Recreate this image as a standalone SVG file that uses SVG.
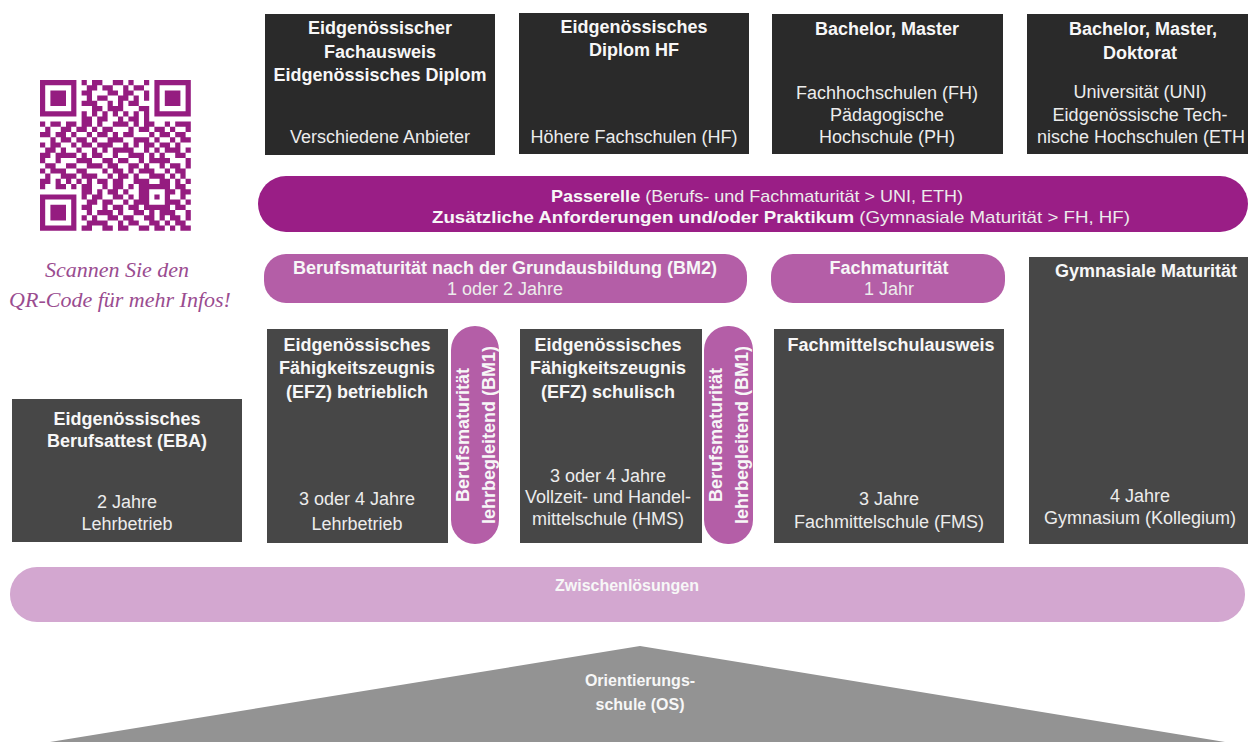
<svg xmlns="http://www.w3.org/2000/svg" width="1248" height="742" viewBox="0 0 1248 742">
<style>
.top{fill:#2a2a2a}
.box{fill:#474747}
.pill{fill:#b45ea7}
.t{font-family:"Liberation Sans",Arial,sans-serif;font-size:18px;fill:#ececec;text-anchor:middle}
.b{font-weight:bold;fill:#f7f7f7}
.cap{font-family:"Liberation Serif","Times New Roman",serif;font-style:italic;font-size:22px;fill:#9a4c90;text-anchor:middle}
</style>
<rect width="1248" height="742" fill="#ffffff"/>

<g id="qr">
<path transform="translate(40,80) scale(5.2)" fill="none" stroke="#951c80" stroke-width="1" d="M0 .5h7M8 .5h1M10 .5h2M14 .5h2M17 .5h1M20 .5h1M22 .5h7
M0 1.5h1M6 1.5h1M9 1.5h2M12 1.5h2M16 1.5h1M18 1.5h2M22 1.5h1M28 1.5h1
M0 2.5h1M2 2.5h3M6 2.5h1M8 2.5h2M13 2.5h2M16 2.5h2M20 2.5h1M22 2.5h1M24 2.5h3M28 2.5h1
M0 3.5h1M2 3.5h3M6 3.5h1M9 3.5h1M11 3.5h2M15 3.5h2M18 3.5h1M20 3.5h1M22 3.5h1M24 3.5h3M28 3.5h1
M0 4.5h1M2 4.5h3M6 4.5h1M8 4.5h3M13 4.5h1M15 4.5h1M17 4.5h2M22 4.5h1M24 4.5h3M28 4.5h1
M0 5.5h1M6 5.5h1M10 5.5h2M13 5.5h3M19 5.5h2M22 5.5h1M28 5.5h1
M0 6.5h7M8 6.5h1M10 6.5h1M12 6.5h1M14 6.5h1M16 6.5h1M18 6.5h1M20 6.5h1M22 6.5h7
M8 7.5h2M11 7.5h2M15 7.5h1M17 7.5h2M20 7.5h1
M0 8.5h1M2 8.5h2M5 8.5h2M8 8.5h2M11 8.5h1M14 8.5h3M18 8.5h1M20 8.5h2M24 8.5h1M26 8.5h3
M1 9.5h1M4 9.5h2M7 9.5h2M10 9.5h1M12 9.5h2M17 9.5h1M19 9.5h2M22 9.5h2M25 9.5h1M28 9.5h1
M0 10.5h2M3 10.5h2M6 10.5h1M9 10.5h1M11 10.5h2M14 10.5h1M16 10.5h2M21 10.5h1M23 10.5h2M26 10.5h2
M2 11.5h1M4 11.5h2M7 11.5h2M10 11.5h1M13 11.5h3M18 11.5h3M22 11.5h1M25 11.5h1M27 11.5h2
M0 12.5h1M2 12.5h2M6 12.5h1M8 12.5h2M11 12.5h3M16 12.5h1M18 12.5h1M20 12.5h2M23 12.5h2M26 12.5h1
M1 13.5h2M4 13.5h1M7 13.5h1M10 13.5h1M12 13.5h1M14 13.5h4M20 13.5h1M22 13.5h1M24 13.5h3M28 13.5h1
M0 14.5h2M3 14.5h4M8 14.5h1M10 14.5h2M14 14.5h1M17 14.5h3M21 14.5h1M23 14.5h1M26 14.5h2
M0 15.5h1M3 15.5h1M7 15.5h3M12 15.5h2M15 15.5h2M19 15.5h1M21 15.5h4M28 15.5h1
M1 16.5h2M5 16.5h2M9 16.5h3M13 16.5h2M17 16.5h2M20 16.5h1M23 16.5h1M25 16.5h2M28 16.5h1
M0 17.5h1M2 17.5h3M7 17.5h2M12 17.5h1M14 17.5h2M17 17.5h1M19 17.5h3M24 17.5h1M26 17.5h2
M1 18.5h1M4 18.5h3M8 18.5h3M13 18.5h1M15 18.5h2M18 18.5h1M21 18.5h3M25 18.5h1M27 18.5h1
M0 19.5h2M3 19.5h1M5 19.5h1M7 19.5h1M9 19.5h1M11 19.5h2M14 19.5h2M18 19.5h3M23 19.5h2M26 19.5h1M28 19.5h1
M0 20.5h1M3 20.5h2M6 20.5h1M8 20.5h2M12 20.5h1M14 20.5h2M17 20.5h1M19 20.5h6M26 20.5h2
M8 21.5h2M11 21.5h1M13 21.5h2M16 21.5h1M19 21.5h2M24 21.5h2M27 21.5h2
M0 22.5h7M8 22.5h1M10 22.5h2M14 22.5h2M17 22.5h1M19 22.5h2M22 22.5h1M24 22.5h1M27 22.5h1
M0 23.5h1M6 23.5h1M9 23.5h2M12 23.5h2M16 23.5h1M18 23.5h3M24 23.5h3M28 23.5h1
M0 24.5h1M2 24.5h3M6 24.5h1M8 24.5h2M12 24.5h1M14 24.5h2M17 24.5h2M20 24.5h5M26 24.5h2
M0 25.5h1M2 25.5h3M6 25.5h1M9 25.5h1M11 25.5h3M15 25.5h1M18 25.5h2M21 25.5h1M23 25.5h3M28 25.5h1
M0 26.5h1M2 26.5h3M6 26.5h1M8 26.5h1M10 26.5h1M13 26.5h2M16 26.5h2M20 26.5h2M23 26.5h1M25 26.5h2M28 26.5h1
M0 27.5h1M6 27.5h1M9 27.5h4M15 27.5h1M17 27.5h2M21 27.5h2M24 27.5h1M26 27.5h2
M0 28.5h7M8 28.5h2M12 28.5h2M15 28.5h2M19 28.5h2M22 28.5h2M25 28.5h1M27 28.5h2"/>
<text class="cap" x="117" y="277">Scannen Sie den</text>
<text class="cap" x="120" y="307">QR-Code für mehr Infos!</text>
</g>

<g id="node-fachausweis">
<rect class="top" x="265" y="14" width="230" height="141"/>
<text class="t b" x="380" y="34">Eidgenössischer</text>
<text class="t b" x="380" y="58">Fachausweis</text>
<text class="t b" x="380" y="81">Eidgenössisches Diplom</text>
<text class="t" x="380" y="143">Verschiedene Anbieter</text>
</g>

<g id="node-diplom-hf">
<rect class="top" x="519" y="13" width="230" height="141"/>
<text class="t b" x="634" y="33">Eidgenössisches</text>
<text class="t b" x="634" y="56">Diplom HF</text>
<text class="t" x="634" y="143">Höhere Fachschulen (HF)</text>
</g>

<g id="node-fh">
<rect class="top" x="772" y="14" width="231" height="140"/>
<text class="t b" x="887" y="35">Bachelor, Master</text>
<text class="t" x="887" y="99">Fachhochschulen (FH)</text>
<text class="t" x="887" y="121">Pädagogische</text>
<text class="t" x="887" y="143">Hochschule (PH)</text>
</g>

<g id="node-uni">
<rect class="top" x="1027" y="14" width="230" height="140"/>
<text class="t b" x="1143" y="35">Bachelor, Master,</text>
<text class="t b" x="1140" y="59">Doktorat</text>
<text class="t" x="1140" y="98">Universität (UNI)</text>
<text class="t" x="1140" y="121">Eidgenössische Tech-</text>
<text class="t" x="1037" y="143" style="text-anchor:start">nische Hochschulen (ETH</text>
</g>

<g id="node-passerelle">
<rect x="258" y="176" width="990" height="56" rx="28" fill="#9a1e86"/>
<text class="t" x="757" y="202" style="font-size:17px" textLength="412" lengthAdjust="spacingAndGlyphs"><tspan class="b">Passerelle</tspan> (Berufs- und Fachmaturität &gt; UNI, ETH)</text>
<text class="t" x="781" y="223" style="font-size:17px" textLength="698" lengthAdjust="spacingAndGlyphs"><tspan class="b">Zusätzliche Anforderungen und/oder Praktikum</tspan> (Gymnasiale Maturität &gt; FH, HF)</text>
</g>

<g id="node-bm2">
<rect class="pill" x="264" y="254" width="483" height="49" rx="22"/>
<text class="t b" x="505" y="274">Berufsmaturität nach der Grundausbildung (BM2)</text>
<text class="t" x="505" y="295">1 oder 2 Jahre</text>
</g>

<g id="node-fachmaturitaet">
<rect class="pill" x="771" y="254" width="234" height="49" rx="22"/>
<text class="t b" x="889" y="274">Fachmaturität</text>
<text class="t" x="889" y="295">1 Jahr</text>
</g>

<g id="node-gymnasium">
<rect class="box" x="1029" y="257" width="225" height="287"/>
<text class="t b" x="1146" y="277">Gymnasiale Maturität</text>
<text class="t" x="1140" y="502">4 Jahre</text>
<text class="t" x="1140" y="524">Gymnasium (Kollegium)</text>
</g>

<g id="node-efz-betrieblich">
<rect class="box" x="267" y="329" width="181" height="214"/>
<text class="t b" x="357" y="351">Eidgenössisches</text>
<text class="t b" x="357" y="374">Fähigkeitszeugnis</text>
<text class="t b" x="357" y="398">(EFZ) betrieblich</text>
<text class="t" x="357" y="505">3 oder 4 Jahre</text>
<text class="t" x="357" y="530">Lehrbetrieb</text>
</g>

<g id="node-bm1-a">
<rect class="pill" x="451" y="326" width="48" height="218" rx="24"/>
<g transform="translate(475,435) rotate(-90)">
<text class="t b" x="0" y="-6.5">Berufsmaturität</text>
<text class="t b" x="0" y="19.5">lehrbegleitend (BM1)</text>
</g>
</g>

<g id="node-efz-schulisch">
<rect class="box" x="520" y="329" width="182" height="214"/>
<text class="t b" x="608" y="351">Eidgenössisches</text>
<text class="t b" x="608" y="374">Fähigkeitszeugnis</text>
<text class="t b" x="608" y="398">(EFZ) schulisch</text>
<text class="t" x="608" y="482">3 oder 4 Jahre</text>
<text class="t" x="608" y="503">Vollzeit- und Handel-</text>
<text class="t" x="608" y="525">mittelschule (HMS)</text>
</g>

<g id="node-bm1-b">
<rect class="pill" x="704" y="326" width="49" height="218" rx="24"/>
<g transform="translate(728.5,435) rotate(-90)">
<text class="t b" x="0" y="-6.5">Berufsmaturität</text>
<text class="t b" x="0" y="19.5">lehrbegleitend (BM1)</text>
</g>
</g>

<g id="node-fms">
<rect class="box" x="774" y="329" width="230" height="214"/>
<text class="t b" x="891" y="351">Fachmittelschulausweis</text>
<text class="t" x="889" y="505">3 Jahre</text>
<text class="t" x="889" y="528">Fachmittelschule (FMS)</text>
</g>

<g id="node-eba">
<rect class="box" x="12" y="399" width="230" height="143"/>
<text class="t b" x="127" y="425">Eidgenössisches</text>
<text class="t b" x="127" y="447">Berufsattest (EBA)</text>
<text class="t" x="127" y="508">2 Jahre</text>
<text class="t" x="127" y="530">Lehrbetrieb</text>
</g>

<g id="node-zwischenloesungen">
<rect x="10" y="567" width="1235" height="55" rx="27" fill="#d3a7d0"/>
<text class="t b" x="627" y="591" style="font-size:16px">Zwischenlösungen</text>
</g>

<g id="node-os">
<polygon points="640,646 1225,742 50,742" fill="#939393"/>
<text class="t b" x="640" y="686" style="font-size:16px">Orientierungs-</text>
<text class="t b" x="640" y="710" style="font-size:16px">schule (OS)</text>
</g>

<g id="connectors"/>
</svg>
